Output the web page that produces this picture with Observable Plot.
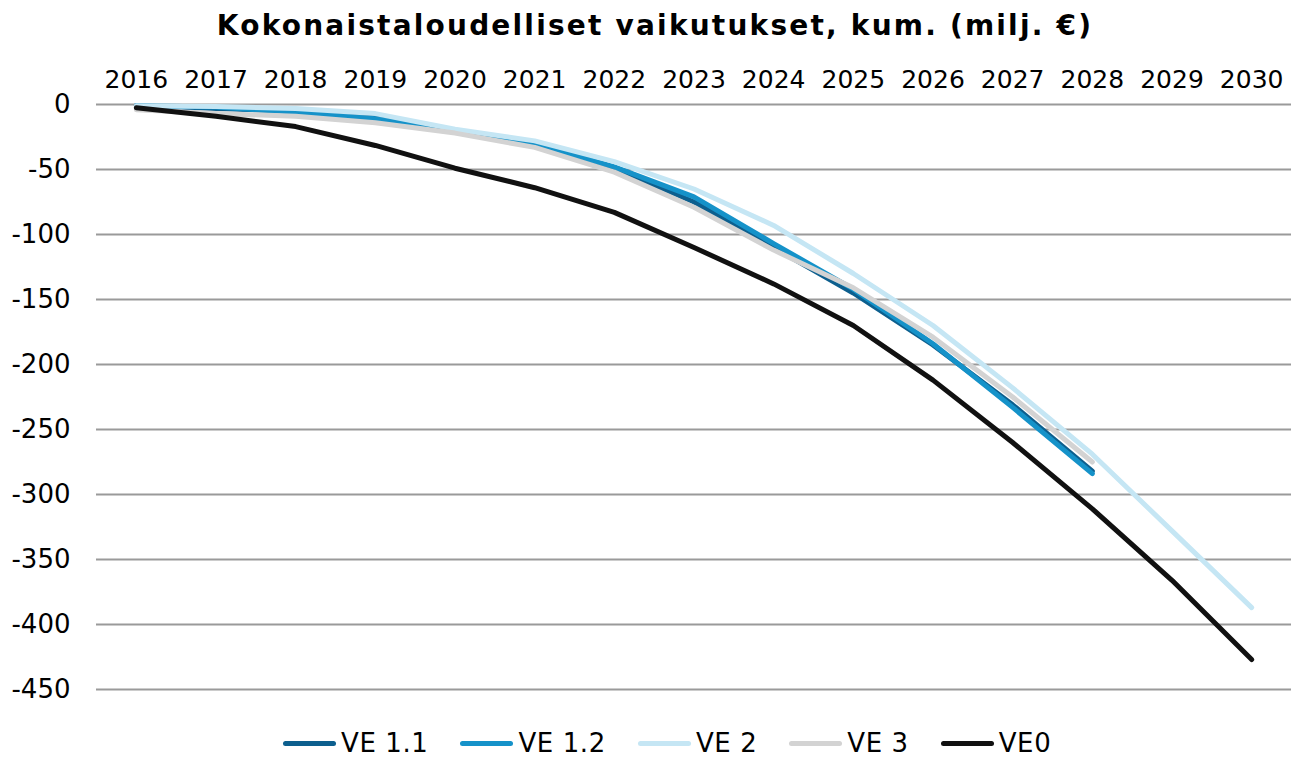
<!DOCTYPE html>
<html>
<head>
<meta charset="utf-8">
<script src="https://cdn.jsdelivr.net/npm/d3@7"></script>
<script src="https://cdn.jsdelivr.net/npm/@observablehq/plot@0.6"></script>
<style>
  html, body { margin: 0; padding: 0; background: #fff; }
  body { width: 1301px; height: 758px; position: relative; overflow: hidden; font-family: "DejaVu Sans", Verdana, sans-serif; }
  #title { position: absolute; left: 0; top: 0; width: 1301px; height: 50px; line-height: 52px; text-align: center; font-weight: bold; font-size: 28px; letter-spacing: 2.2px; color: #000; padding-left: 9px; box-sizing: border-box; white-space: nowrap; }
  #chart { position: absolute; left: 0; top: 50px; }
  #legend { position: absolute; left: 283px; top: 724px; height: 38px; display: flex; align-items: center; font-size: 26px; letter-spacing: 0.6px; color: #000; }
  .item { display: flex; align-items: center; margin-right: 32px; }
  .sw { width: 53px; height: 5px; border-radius: 3px; margin-right: 5px; }
</style>
</head>
<body>
<div id="title">Kokonaistaloudelliset vaikutukset, kum. (milj. €)</div>
<div id="chart"></div>
<div id="legend"></div>
<script>
const years = [2016, 2017, 2018, 2019, 2020, 2021, 2022, 2023, 2024, 2025, 2026, 2027, 2028, 2029, 2030];
const seriesNames = ["VE 1.1", "VE 1.2", "VE 2", "VE 3", "VE0"];
const seriesColors = ["#0d5f8e", "#1592c9", "#c5e6f4", "#d3d3d3", "#111111"];
const ve11 = [-1, -3, -5, -10, -20, -31, -49, -75, -110, -145, -185, -231, -282];
const ve12 = [-1, -2, -6, -11, -20, -30, -48, -71, -107, -142, -184, -233, -284];
const ve2 = [-1, -1.5, -3, -7, -19, -28, -44, -65, -93, -130, -170, -218, -269, -328, -387];
const ve3 = [-4, -7, -9, -14, -22, -33, -52, -79, -112, -141, -179, -225, -275];
const ve0 = [-2.5, -9, -17, -31.5, -49, -64, -83, -110, -138, -170, -212, -260, -311, -366, -427];
const yTicks = [0, -50, -100, -150, -200, -250, -300, -350, -400, -450];

const seriesValues = [ve11, ve12, ve2, ve3, ve0];
const rows = [];
seriesNames.forEach((name, i) => {
  seriesValues[i].forEach((v, j) => rows.push({ series: name, year: years[j], value: v }));
});

const chart = Plot.plot({
  width: 1301,
  height: 670,
  marginTop: 54,
  marginBottom: 31,
  marginLeft: 96,
  marginRight: 10,
  style: { fontFamily: "'DejaVu Sans', Verdana, sans-serif", fontSize: "25px", color: "#000", background: "#fff" },
  x: { type: "point", domain: years, padding: 0.5, round: false, axis: "top", tickSize: 0, tickPadding: 17, label: null, tickFormat: d => String(d) },
  y: { domain: [-450, 0], ticks: yTicks, tickSize: 0, tickPadding: 26, label: null, tickFormat: d => String(d) },
  color: { domain: seriesNames, range: seriesColors },
  marks: [
    Plot.ruleY(yTicks, { stroke: "#9a9a9a", strokeWidth: 2 }),
    Plot.line(rows, { x: "year", y: "value", z: "series", stroke: "series", strokeWidth: 5, strokeLinecap: "round", strokeLinejoin: "round" })
  ]
});
chart.querySelectorAll('[aria-label="y-axis tick label"] text').forEach(t => t.style.fontSize = "26px");
document.getElementById("chart").appendChild(chart);

const legend = document.getElementById("legend");
seriesNames.forEach((name, i) => {
  const item = document.createElement("div");
  item.className = "item";
  const sw = document.createElement("div");
  sw.className = "sw";
  sw.style.background = seriesColors[i];
  const label = document.createElement("span");
  label.textContent = name;
  item.appendChild(sw);
  item.appendChild(label);
  legend.appendChild(item);
});
</script>
</body>
</html>
